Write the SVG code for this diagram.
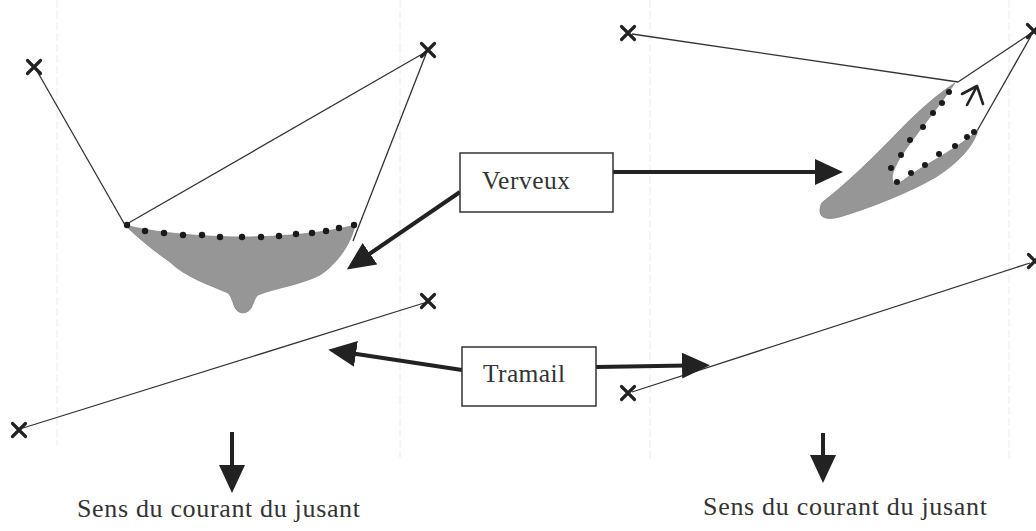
<svg xmlns="http://www.w3.org/2000/svg" width="1036" height="531" viewBox="0 0 1036 531">
<style>
.guide{stroke:#efe6ee;stroke-width:1;stroke-dasharray:8 3}
.net{fill:none;stroke:#333;stroke-width:1.3}
.shade{fill:#969696;stroke:#888;stroke-width:0.8}
.dot{fill:#1a1a1a}
.cross{fill:none;stroke:#222;stroke-width:3.2;stroke-linecap:round}
.box{fill:#fff;stroke:#333;stroke-width:1.5}
.lbl{font-family:"Liberation Serif","Times New Roman",serif;fill:#333}
.arrow{fill:none;stroke:#222;stroke-width:4;marker-end:url(#head)}
</style>
<defs>
<marker id="head" markerUnits="userSpaceOnUse" markerWidth="30" markerHeight="28" refX="6" refY="13" orient="auto">
<path d="M0,0 L28,13 L0,26 Z" fill="#222"/>
</marker>
<g id="x"><path class="cross" d="M-6.5,-6.5 L6.5,6.5 M-6.5,6.5 L6.5,-6.5"/></g>
</defs>
<rect width="1036" height="531" fill="#fff"/>
<g id="guides">
<line class="guide" x1="57" y1="0" x2="57" y2="445"/>
<line class="guide" x1="400" y1="0" x2="400" y2="458"/>
<line class="guide" x1="650" y1="0" x2="650" y2="460"/>
<line class="guide" x1="1009" y1="0" x2="1009" y2="460"/>
</g>
<g id="verveux-left">
<line class="net" x1="37" y1="71" x2="125" y2="225"/>
<line class="net" x1="125" y1="225" x2="424" y2="53"/>
<line class="net" x1="426" y1="54" x2="353" y2="241"/>
<path class="shade" d="M125,225 C150,232 200,237 242,237 C285,237 330,232 355,225 C352,240 340,262 320,275 C300,285 275,288 258,295 C252,300 254,312 243,313 C232,312 235,300 228,293 C210,285 185,277 170,262 C150,248 135,235 125,225 Z"/>
<g class="dot">
<circle cx="127" cy="225" r="3.2"/><circle cx="145" cy="231" r="3.2"/><circle cx="164" cy="233" r="3.2"/><circle cx="183" cy="235" r="3.2"/><circle cx="202" cy="235" r="3.2"/><circle cx="220" cy="237" r="3.2"/><circle cx="242" cy="237" r="3.2"/><circle cx="261" cy="237" r="3.2"/><circle cx="279" cy="236" r="3.2"/><circle cx="296" cy="234" r="3.2"/><circle cx="312" cy="233" r="3.2"/><circle cx="326" cy="231" r="3.2"/><circle cx="339" cy="228" r="3.2"/><circle cx="354" cy="225" r="3.2"/>
</g>
<use href="#x" x="34" y="67"/>
<use href="#x" x="428" y="50"/>
</g>
<g id="verveux-right">
<line class="net" x1="632" y1="34" x2="958" y2="82"/>
<line class="net" x1="958" y1="82" x2="1030" y2="34"/>
<line class="net" x1="1031" y1="36" x2="977" y2="131"/>
<path class="shade" d="M824,201 C845,185 876,155 898,132 C918,111 939,93 955,83 L950,90 C938,108 915,135 900,158 C893,170 890,178 894,183 C899,185 905,179 912,174 C930,162 958,148 978,130 C973,148 956,164 936,177 C910,192 872,207 846,215 C832,220 821,220 820,212 C820,206 821,203 824,201 Z"/>
<g class="dot">
<circle cx="949" cy="92" r="3"/><circle cx="942" cy="103" r="3"/><circle cx="933" cy="113" r="3"/><circle cx="923" cy="127" r="3"/><circle cx="910" cy="140" r="3"/><circle cx="901" cy="155" r="3"/><circle cx="891" cy="168" r="3"/><circle cx="897" cy="182" r="3"/><circle cx="911" cy="173" r="3"/><circle cx="925" cy="165" r="3"/><circle cx="939" cy="154" r="3"/><circle cx="955" cy="146" r="3"/><circle cx="967" cy="137" r="3"/><circle cx="974" cy="132" r="3"/>
</g>
<path d="M967,105 L977,86 M962,94 L977,86 L983,104" fill="none" stroke="#222" stroke-width="2.6" stroke-linecap="round" stroke-linejoin="round"/>
<use href="#x" x="628" y="33"/>
<use href="#x" x="1034" y="31"/>
</g>
<g id="tramail-left">
<line class="net" x1="23" y1="428" x2="424" y2="303"/>
<use href="#x" x="19" y="430"/>
<use href="#x" x="428" y="301"/>
</g>
<g id="tramail-right">
<line class="net" x1="632" y1="392" x2="1030" y2="263"/>
<use href="#x" x="628" y="393"/>
<use href="#x" x="1035" y="261"/>
</g>
<g id="connectors">
<line class="arrow" x1="460" y1="192" x2="365" y2="257"/>
<line class="arrow" x1="613" y1="172" x2="821" y2="172"/>
<line class="arrow" x1="462" y1="370" x2="350" y2="353"/>
<line class="arrow" x1="596" y1="367" x2="688" y2="365.5"/>
<line class="arrow" x1="232" y1="432" x2="232" y2="471"/>
<line class="arrow" x1="823" y1="433" x2="823" y2="461"/>
</g>
<g id="verveux">
<rect class="box" x="460" y="153" width="153" height="59"/>
<text class="lbl" x="482" y="189" font-size="25.5" textLength="88" lengthAdjust="spacing">Verveux</text>
</g>
<g id="tramail">
<rect class="box" x="462" y="347" width="134" height="59"/>
<text class="lbl" x="483" y="382" font-size="25.5" textLength="82" lengthAdjust="spacing">Tramail</text>
</g>
<g id="label-left">
<text class="lbl" x="77" y="517" font-size="26" textLength="283" lengthAdjust="spacing">Sens du courant du jusant</text>
</g>
<g id="label-right">
<text class="lbl" x="703" y="515" font-size="26" textLength="284" lengthAdjust="spacing">Sens du courant du jusant</text>
</g>
</svg>
